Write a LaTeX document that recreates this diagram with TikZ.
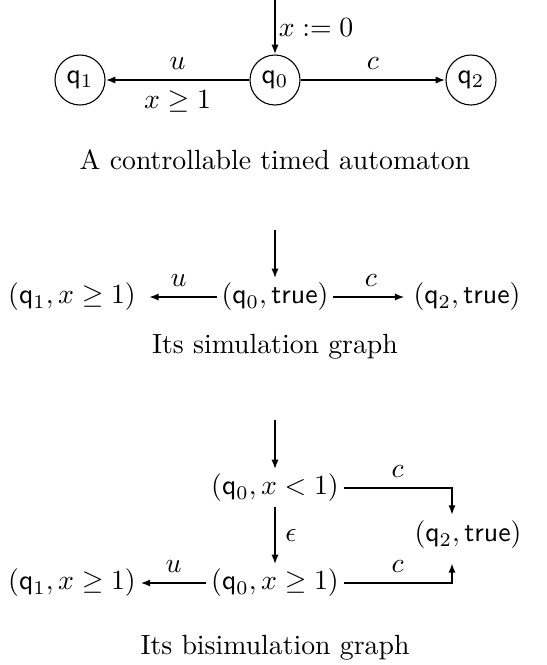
\documentclass[tikz,border=0pt]{standalone}
\usetikzlibrary{arrows.meta}

\tikzset{
  state/.style={draw, circle, minimum size=18pt, inner sep=0pt},
  config/.style={inner sep=1.5pt},
  trans/.style={-{Latex[length=3.5pt,width=2.6pt]}, thick},
}

\begin{document}
\begin{tikzpicture}[x=0.36pt, y=-0.36pt]
		\useasboundingbox (0,0) rectangle (546,665);

		% the timed automaton
		\node[state] (q0) at (275,80) {$\mathsf{q}_0$};
		\node[state] (q1) at (80,80) {$\mathsf{q}_1$};
		\node[state] (q2) at (471,80) {$\mathsf{q}_2$};
		\coordinate (init) at (275,0);

		\draw[trans] (init) -- (q0) node[midway, right, inner sep=1pt] {$x:=0$};
		\draw[trans] (q0) -- (q1) node[midway, above] {$u$} node[midway, below] {$x\geq 1$};
		\draw[trans] (q0) -- (q2) node[midway, above] {$c$};

		\node (capA) at (275,160) {A controllable timed automaton};

		% simulation graph
		\node[config] (s0) at (275,297) {$(\mathsf{q}_0,\mathsf{true})$};
		\node[config] (s1) at (72,297) {$(\mathsf{q}_1,x\geq 1)$};
		\node[config] (s2) at (467,297) {$(\mathsf{q}_2,\mathsf{true})$};
		\coordinate (initS) at (275,230);

		\draw[trans] (initS) -- (s0);
		\draw[trans, shorten >=3pt] (s0) -- (s1) node[midway, above] {$u$};
		\draw[trans, shorten >=1.5pt] (s0) -- (s2) node[midway, above] {$c$};

		\node (capS) at (275,347) {Its simulation graph};

		% bisimulation graph
		\node[config] (b0) at (275,488) {$(\mathsf{q}_0,x<1)$};
		\node[config] (b1) at (275,583) {$(\mathsf{q}_0,x\geq 1)$};
		\node[config] (b2) at (72,583) {$(\mathsf{q}_1,x\geq 1)$};
		\node[config] (b3) at (468,535) {$(\mathsf{q}_2,\mathsf{true})$};
		\coordinate (initB) at (275,420);
		\coordinate (c0) at (452,515);
		\coordinate (c1) at (452,563);

		\draw[trans] (initB) -- (b0);
		\draw[trans] (b0) -- (b1) node[midway, right] {$\epsilon$};
		\draw[trans] (b1) -- (b2) node[midway, above] {$u$};
		\draw[trans] (b0) -| (c0) node[pos=0.25, above] {$c$};
		\draw[trans] (b1) -| (c1) node[pos=0.25, above] {$c$};

		\node (capB) at (275,648) {Its bisimulation graph};

	\end{tikzpicture}
\end{document}
